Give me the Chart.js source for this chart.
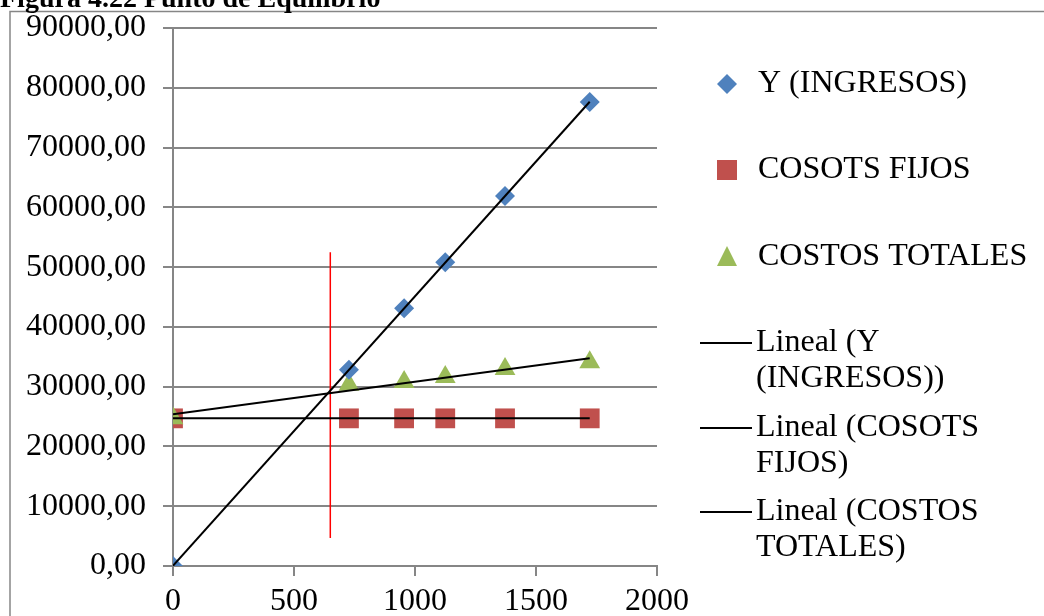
<!DOCTYPE html>
<html>
<head>
<meta charset="utf-8">
<script src="https://cdn.jsdelivr.net/npm/chart.js@4/dist/chart.umd.min.js"></script>
<style>
body { margin: 0; background: #fff; }
</style>
</head>
<body>
<canvas id="equilibrio" width="1044" height="616"></canvas>
<script>
// datos
const unidades = [0, 727, 955, 1125, 1372, 1722];
const ingresos = [0, 32850, 43100, 50800, 61900, 77600];
const costosFijos = [24700, 24700, 24700, 24700, 24700, 24700];
const costosTotales = [24700, 30300, 30800, 31600, 32950, 34100];
const equilibrioX = [650, 650];
const equilibrioY = [4700, 52500];
const nombres = ['Y (INGRESOS)', 'COSOTS FIJOS', 'COSTOS TOTALES'];
const nombresLineal = [['Lineal (Y', '(INGRESOS))'], ['Lineal (COSOTS', 'FIJOS)'], ['Lineal (COSTOS', 'TOTALES)']];
const titulo = 'Figura 4.22 Punto de Equilibrio';

const azul = '#4F81BD', rojo = '#C0504D', verde = '#9BBB59';
const gris = '#868686';
const fuente = '"Liberation Serif", "Times New Roman", serif';

function puntos(xs, ys) {
    return xs.map((x, i) => ({ x: x, y: ys[i] }));
}

// tendencia lineal (minimos cuadrados), como la de Excel
function lineal(xs, ys) {
    const n = xs.length;
    const mx = xs.reduce((a, b) => a + b, 0) / n;
    const my = ys.reduce((a, b) => a + b, 0) / n;
    let sxy = 0, sxx = 0;
    for (let i = 0; i < n; i++) {
        sxy += (xs[i] - mx) * (ys[i] - my);
        sxx += (xs[i] - mx) * (xs[i] - mx);
    }
    const m = sxx ? sxy / sxx : 0;
    const b = my - m * mx;
    const x0 = Math.min(...xs), x1 = Math.max(...xs);
    return [{ x: x0, y: m * x0 + b }, { x: x1, y: m * x1 + b }];
}

function marca(ctx, tipo, x, y, color) {
    ctx.fillStyle = color;
    ctx.beginPath();
    if (tipo === 'rectRot') {
        ctx.moveTo(x - 10, y); ctx.lineTo(x, y - 10); ctx.lineTo(x + 10, y); ctx.lineTo(x, y + 10);
    } else if (tipo === 'rect') {
        ctx.rect(x - 10, y - 10, 20, 20);
    } else {
        ctx.moveTo(x, y - 11); ctx.lineTo(x + 10, y + 9); ctx.lineTo(x - 10, y + 9);
    }
    ctx.closePath();
    ctx.fill();
}

const marcoYLeyenda = {
    id: 'marcoYLeyenda',
    afterDraw(chart) {
        const ctx = chart.ctx;
        ctx.save();
        ctx.strokeStyle = gris;
        ctx.lineWidth = 1.5;
        ctx.beginPath();
        ctx.moveTo(10, 616); ctx.lineTo(10, 11.5); ctx.lineTo(1044, 11.5);
        ctx.stroke();

        ctx.fillStyle = '#000';
        ctx.font = 'bold 28px ' + fuente;
        ctx.textBaseline = 'alphabetic';
        ctx.fillText(titulo, 0, 7);

        ctx.font = '32px ' + fuente;
        ctx.textBaseline = 'middle';
        const estilos = ['rectRot', 'rect', 'triangle'];
        const colores = [azul, rojo, verde];
        const yMarca = [84, 170, 257];
        for (let i = 0; i < 3; i++) {
            marca(ctx, estilos[i], 727, yMarca[i], colores[i]);
            ctx.fillStyle = '#000';
            ctx.fillText(nombres[i], 758, yMarca[i]);
        }
        const yLinea = [343, 428, 512];
        ctx.strokeStyle = '#000';
        ctx.lineWidth = 2;
        for (let i = 0; i < 3; i++) {
            ctx.beginPath();
            ctx.moveTo(700, yLinea[i]); ctx.lineTo(752, yLinea[i]);
            ctx.stroke();
            nombresLineal[i].forEach((t, j) => ctx.fillText(t, 756, yLinea[i] + j * 36));
        }
        ctx.restore();
    }
};

new Chart(document.getElementById('equilibrio').getContext('2d'), {
    type: 'scatter',
    data: {
        datasets: [
            { label: nombres[0], data: puntos(unidades, ingresos), pointStyle: 'rectRot', pointRadius: 10, backgroundColor: azul, borderColor: azul, borderWidth: 0, order: 1 },
            { label: nombres[1], data: puntos(unidades, costosFijos), pointStyle: 'rect', pointRadius: 14, backgroundColor: rojo, borderColor: rojo, borderWidth: 0, order: 2 },
            { label: nombres[2], data: puntos(unidades, costosTotales), pointStyle: 'triangle', pointRadius: 12, backgroundColor: verde, borderColor: verde, borderWidth: 0, order: 1 },
            { label: 'Lineal (Y (INGRESOS))', data: lineal(unidades, ingresos), showLine: true, pointRadius: 0, borderColor: '#000', borderWidth: 2, order: 0 },
            { label: 'Lineal (COSOTS FIJOS)', data: lineal(unidades, costosFijos), showLine: true, pointRadius: 0, borderColor: '#000', borderWidth: 2, order: 0 },
            { label: 'Lineal (COSTOS TOTALES)', data: lineal(unidades, costosTotales), showLine: true, pointRadius: 0, borderColor: '#000', borderWidth: 2, order: 0 },
            { label: 'equilibrio', data: puntos(equilibrioX, equilibrioY), showLine: true, pointRadius: 0, borderColor: '#FF0000', borderWidth: 1.5, order: 0 }
        ]
    },
    options: {
        responsive: false,
        animation: false,
        layout: { padding: { left: 0, top: 28, right: 387, bottom: 0 } },
        plugins: {
            legend: { display: false },
            tooltip: { enabled: false }
        },
        scales: {
            x: {
                type: 'linear',
                min: 0,
                max: 2000,
                afterFit: function(s) { s.height = 50; s.paddingLeft = 0; s.paddingRight = 0; },
                ticks: {
                    stepSize: 500,
                    color: '#000',
                    font: { family: fuente, size: 32 },
                    padding: 6,
                    maxRotation: 0,
                    callback: function(v) { return String(v); }
                },
                grid: { drawOnChartArea: false, color: gris, lineWidth: 2, tickLength: 10 },
                border: { color: gris, width: 2 }
            },
            y: {
                min: 0,
                max: 90000,
                afterFit: function(s) { s.width = 173; s.paddingTop = 0; s.paddingBottom = 0; },
                ticks: {
                    stepSize: 10000,
                    color: '#000',
                    font: { family: fuente, size: 32 },
                    padding: 17,
                    callback: function(v) { return v.toFixed(2).replace('.', ','); }
                },
                grid: { color: gris, lineWidth: 2, tickLength: 10 },
                border: { color: gris, width: 2 }
            }
        }
    },
    plugins: [marcoYLeyenda]
});
</script>
</body>
</html>
